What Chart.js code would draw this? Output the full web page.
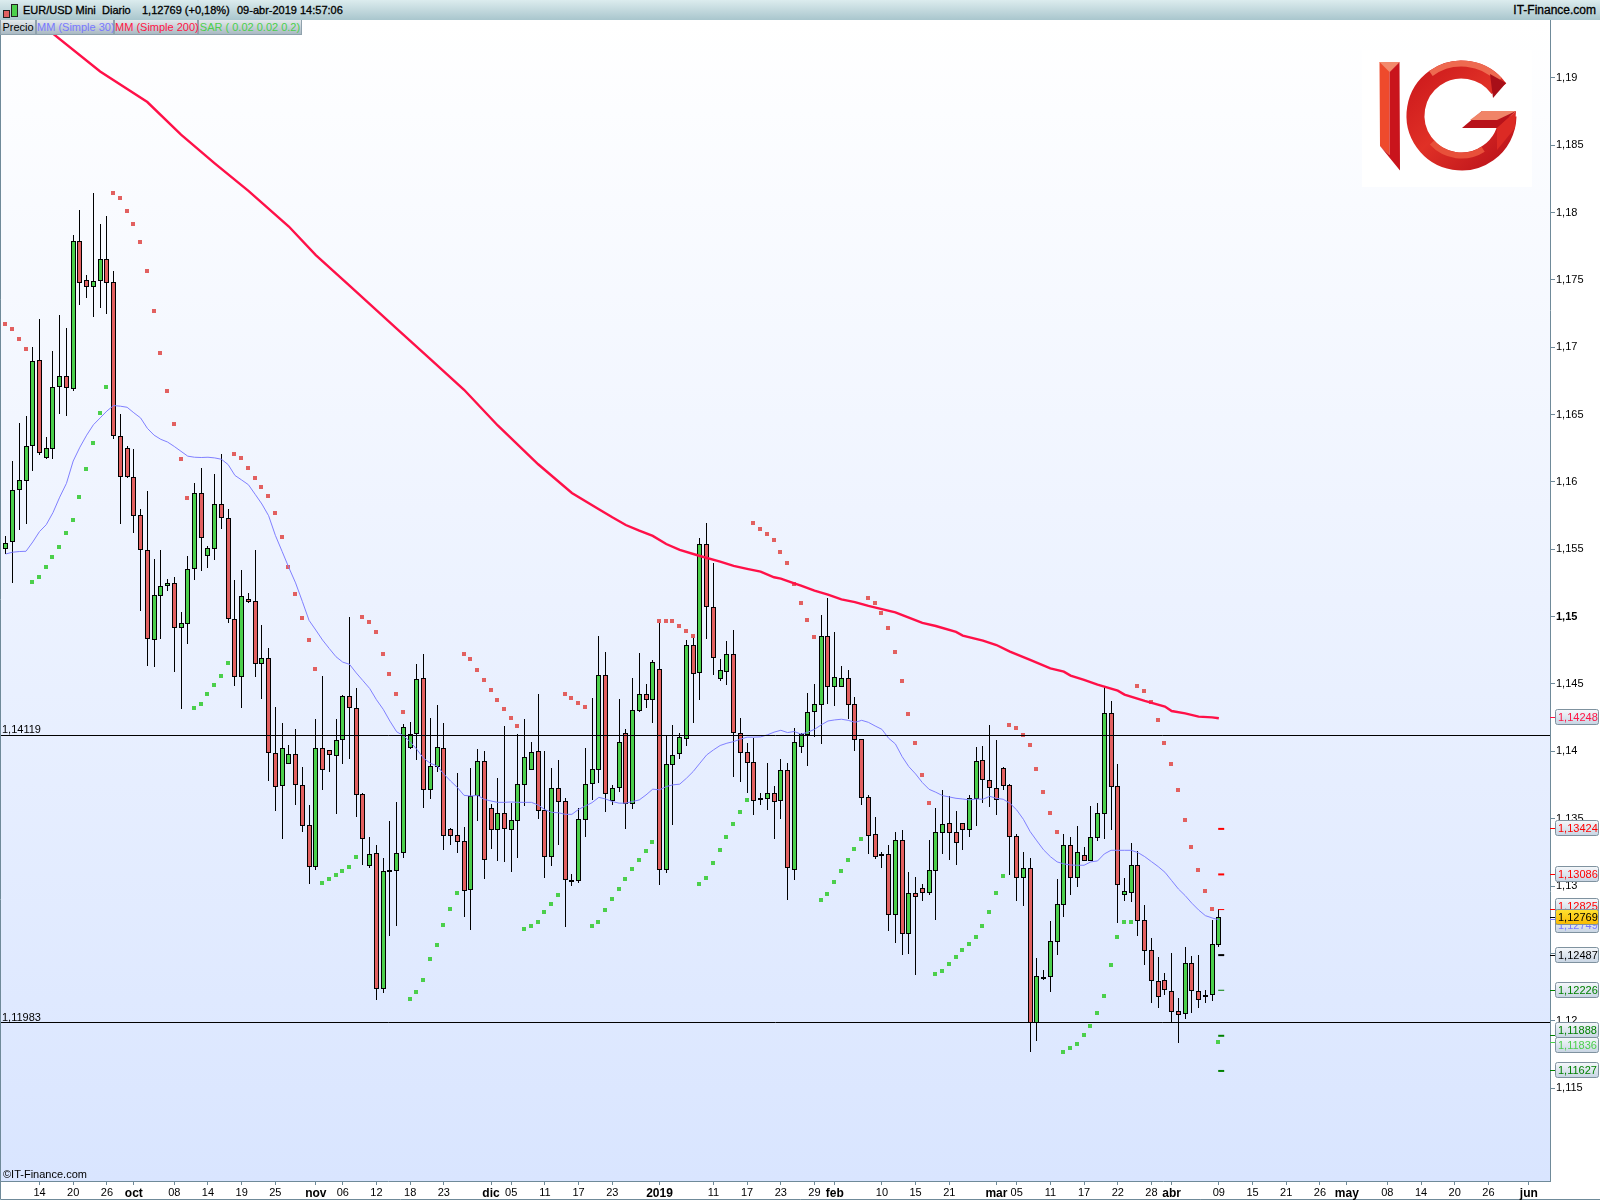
<!DOCTYPE html>
<html lang="es">
<head>
<meta charset="UTF-8" />
<title>EUR/USD Mini Diario</title>
<script src="https://cdn.jsdelivr.net/npm/chart.js"></script>
<style>
  html, body { margin: 0; padding: 0; background: #fff; }
  #wrap { position: relative; width: 1600px; height: 1200px; overflow: hidden; font-family: "Liberation Sans", Arial, sans-serif; }
  canvas { position: absolute; left: 0; top: 0; }
  #bar { position: absolute; left: 0; top: 0; width: 1600px; height: 20px; background: linear-gradient(#dcecee, #a9c6cd); }
  #bar span { position: absolute; top: 3px; font-size: 11px; line-height: 14px; color: #000; -webkit-text-stroke: 0.3px #000; white-space: nowrap; }
  .candle { position: absolute; box-sizing: border-box; border: 1px solid #222; }
  .tab { position: absolute; top: 20px; height: 15px; box-sizing: border-box; border: 1px solid #8fa2ad; border-top: 0; background: linear-gradient(#e4e9ec, #a9b9c3); font-size: 11px; line-height: 14px; text-align: center; white-space: nowrap; }
  #copy { position: absolute; left: 3px; top: 1168px; font-size: 11px; line-height: 13px; color: #000; }
</style>
</head>
<body>
<div id="wrap">
  <canvas id="chartCanvas" width="1600" height="1200"></canvas>
  <div id="bar">
    <div class="candle" style="left:3px;top:10px;width:7px;height:8px;background:#e06060"></div>
    <div class="candle" style="left:11px;top:4px;width:7px;height:13px;background:#4bcf4b"></div>
    <span style="left:23px">EUR/USD Mini</span>
    <span style="left:102px">Diario</span>
    <span style="left:142px">1,12769 (+0,18%)</span>
    <span style="left:237px">09-abr-2019 14:57:06</span>
    <span style="right:4px;font-size:12px">IT-Finance.com</span>
  </div>
  <div class="tab" style="left:0;width:36px;color:#000">Precio</div>
  <div class="tab" style="left:36px;width:78px;color:#7878ff">MM (Simple 30)</div>
  <div class="tab" style="left:114px;width:84px;color:#ff1444">MM (Simple 200)</div>
  <div class="tab" style="left:198px;width:104px;color:#4bcf4b">SAR ( 0.02 0.02 0.2)</div>
  <div id="copy">©IT-Finance.com</div>
</div>

<script>
const opens = [
  1.15503,1.15552,1.15943,1.16010,1.16270,1.16902,1.16181,1.16247,1.16708,1.16784,
  1.16692,1.17787,1.17498,1.17449,1.17488,1.17654,1.17482,1.16339,1.16250,1.16040,
  1.15751,1.15498,1.14828,1.15156,1.15230,1.15248,1.14918,1.14948,1.15350,1.15915,
  1.15452,1.15505,1.15834,1.15735,1.14980,1.14548,1.15128,1.15113,1.14651,1.14696,
  1.13986,1.13739,1.13909,1.13978,1.13747,1.13450,1.13143,1.14028,1.14007,1.13967,
  1.14087,1.14407,1.14325,1.13681,1.13151,1.13244,1.12232,1.13122,1.13114,1.13243,
  1.14027,1.14131,1.14541,1.13715,1.13886,1.14022,1.13421,1.13376,1.13332,1.12973,
  1.13671,1.13925,1.13577,1.13418,1.13539,1.13418,1.13485,1.13752,1.13864,1.14000,
  1.13562,1.13218,1.13725,1.13628,1.13042,1.13040,1.13492,1.13760,1.13864,1.14564,
  1.13634,1.13724,1.14134,1.13607,1.14302,1.14424,1.14384,1.14609,1.13122,1.13902,
  1.13983,1.14095,1.14787,1.14580,1.15537,1.15074,1.14540,1.14592,1.14721,1.14139,
  1.13993,1.13919,1.13657,1.13649,1.13689,1.13634,1.13860,1.13122,1.14035,1.14124,
  1.14295,1.14342,1.14854,1.14475,1.14480,1.14542,1.14349,1.14089,1.13659,1.13384,
  1.13221,1.13236,1.12788,1.13340,1.12647,1.12946,1.12983,1.12951,1.13114,1.13396,
  1.13466,1.13399,1.13466,1.13419,1.13644,1.13933,1.13785,1.13726,1.13874,1.13748,
  1.13369,1.13062,1.13132,1.11981,1.12328,1.12323,1.12587,1.12862,1.13302,1.13062,
  1.13228,1.13189,1.13359,1.13537,1.14282,1.13740,1.12936,1.12951,1.13154,1.12746,
  1.12523,1.12293,1.12300,1.12219,1.12070,1.12048,1.12426,1.12219,1.12191,1.12189,1.12565
];
const highs = [
  1.15598,1.16155,1.16437,1.16490,1.17002,1.17209,1.16334,1.16971,1.17240,1.17142,
  1.17833,1.18019,1.17534,1.18145,1.17915,1.17973,1.17567,1.16503,1.16268,1.16245,
  1.15800,1.15933,1.15427,1.15496,1.15278,1.15294,1.15035,1.15450,1.15992,1.16104,
  1.15523,1.16059,1.16207,1.15799,1.15272,1.15346,1.15176,1.15494,1.14938,1.14768,
  1.14328,1.14211,1.14047,1.14166,1.13882,1.13601,1.14240,1.14558,1.14012,1.14240,
  1.14418,1.14996,1.14471,1.13692,1.13363,1.13305,1.13209,1.13482,1.13623,1.14200,
  1.14217,1.14648,1.14722,1.14247,1.14343,1.14210,1.13431,1.13839,1.13438,1.13876,
  1.14017,1.14002,1.13606,1.13802,1.14188,1.13616,1.14128,1.14240,1.14069,1.14425,
  1.14002,1.13876,1.13935,1.13651,1.13089,1.13577,1.14024,1.14395,1.14856,1.14737,
  1.13748,1.14389,1.14166,1.14545,1.14730,1.14500,1.14678,1.14968,1.14117,1.14196,
  1.14137,1.14827,1.14842,1.15584,1.15695,1.15398,1.14686,1.14819,1.14901,1.14248,
  1.14062,1.14102,1.13691,1.13914,1.13743,1.13941,1.13914,1.14171,1.14137,1.14434,
  1.14500,1.15012,1.15138,1.14886,1.14633,1.14604,1.14403,1.14090,1.13676,1.13513,
  1.13253,1.13305,1.13401,1.13416,1.13105,1.13067,1.13015,1.13342,1.13580,1.13713,
  1.13669,1.13557,1.13468,1.13676,1.14032,1.14040,1.14196,1.14084,1.13884,1.13758,
  1.13387,1.13255,1.13206,1.12464,1.12377,1.12741,1.13053,1.13387,1.13364,1.13446,
  1.13290,1.13594,1.13617,1.14485,1.14374,1.13906,1.13060,1.13320,1.13260,1.12860,
  1.12615,1.12474,1.12355,1.12503,1.12169,1.12548,1.12481,1.12488,1.12228,1.12748,1.12827
];
const lows = [
  1.15465,1.15253,1.15644,1.15690,1.16084,1.16196,1.16171,1.16173,1.16503,1.16490,
  1.16677,1.17316,1.17365,1.17227,1.17293,1.17247,1.16322,1.15690,1.16030,1.15623,
  1.15043,1.14634,1.14629,1.14836,1.15191,1.14591,1.14314,1.14793,1.15273,1.15342,
  1.15364,1.15423,1.15651,1.14956,1.14487,1.14325,1.15102,1.14548,1.14391,1.13782,
  1.13559,1.13352,1.13905,1.13604,1.13403,1.13018,1.13122,1.13715,1.13843,1.13538,
  1.13909,1.13946,1.13514,1.13159,1.13137,1.12154,1.12207,1.12631,1.12705,1.13210,
  1.14019,1.13935,1.13579,1.13646,1.13846,1.13267,1.13302,1.13245,1.12770,1.12673,
  1.13483,1.13052,1.13275,1.13186,1.13178,1.13104,1.13208,1.13594,1.13861,1.13497,
  1.13059,1.13149,1.13304,1.12696,1.13000,1.13025,1.13364,1.13636,1.13765,1.13549,
  1.13605,1.13701,1.13424,1.13575,1.14295,1.14322,1.14213,1.13009,1.13100,1.13454,
  1.13944,1.14040,1.14211,1.14382,1.14834,1.14567,1.14523,1.14493,1.13810,1.13773,
  1.13691,1.13528,1.13602,1.13565,1.13350,1.13498,1.12896,1.13048,1.13988,1.13894,
  1.14109,1.14057,1.14351,1.14339,1.14478,1.14243,1.14005,1.13604,1.13241,1.13204,
  1.13137,1.12669,1.12580,1.12491,1.12498,1.12343,1.12892,1.12936,1.12751,1.13241,
  1.13196,1.13159,1.13270,1.13367,1.13448,1.13619,1.13589,1.13530,1.13716,1.13085,
  1.12892,1.12855,1.11764,1.11853,1.12303,1.12216,1.12491,1.12773,1.12936,1.12996,
  1.13186,1.13186,1.13337,1.13352,1.13419,1.12728,1.12892,1.12884,1.12632,1.12417,
  1.12135,1.12098,1.12194,1.11989,1.11838,1.12016,1.12060,1.12097,1.12134,1.12149,1.12550
];
const closes = [
  1.15544,1.15938,1.16012,1.16270,1.16894,1.16217,1.16250,1.16703,1.16784,1.16700,
  1.17787,1.17480,1.17449,1.17490,1.17654,1.17480,1.16337,1.16033,1.16038,1.15749,
  1.15498,1.14831,1.15158,1.15225,1.15248,1.14918,1.14951,1.15350,1.15915,1.15585,
  1.15508,1.15834,1.15735,1.14980,1.14548,1.15150,1.15110,1.14651,1.14696,1.13991,
  1.13737,1.14028,1.13978,1.13753,1.13448,1.13143,1.14028,1.13864,1.13975,1.14081,
  1.14407,1.14325,1.13678,1.13352,1.13236,1.12232,1.13108,1.13116,1.13244,1.14178,
  1.14131,1.14534,1.13715,1.13888,1.14029,1.13374,1.13374,1.13329,1.12965,1.13671,
  1.13925,1.13196,1.13418,1.13539,1.13426,1.13487,1.13755,1.13955,1.13992,1.13559,
  1.13218,1.13725,1.13626,1.13047,1.13035,1.13495,1.13755,1.13866,1.14564,1.13685,
  1.13724,1.14067,1.13607,1.14305,1.14424,1.14384,1.14661,1.13122,1.13904,1.13971,
  1.14105,1.14787,1.14572,1.15537,1.15074,1.14691,1.14602,1.14721,1.14139,1.13991,
  1.13916,1.13634,1.13652,1.13689,1.13627,1.13860,1.13130,1.14067,1.14127,1.14290,
  1.14349,1.14854,1.14480,1.14549,1.14542,1.14346,1.14087,1.13656,1.13374,1.13218,
  1.13236,1.12788,1.13340,1.12647,1.12946,1.12921,1.12951,1.13117,1.13399,1.13458,
  1.13396,1.13322,1.13419,1.13651,1.13926,1.13790,1.13730,1.13641,1.13745,1.13367,
  1.13058,1.13132,1.11986,1.12330,1.12323,1.12590,1.12865,1.13302,1.13062,1.13251,
  1.13189,1.13362,1.13540,1.14282,1.13738,1.13011,1.12961,1.13154,1.12743,1.12521,
  1.12298,1.12179,1.12226,1.12063,1.12046,1.12426,1.12219,1.12152,1.12186,1.12567,1.12769
];
const sar = [
  1.17173,1.17135,1.17061,1.16986,
  1.15258,1.15294,1.15368,1.15442,1.15516,1.15621,1.15718,1.15889,1.16096,1.16288,1.16513,1.16705,
  1.18145,1.18109,1.18012,1.17915,1.17782,1.17567,1.17270,1.16958,1.16674,1.16431,1.16171,1.15882,
  1.14322,1.14353,1.14427,1.14492,1.14561,1.14657,
  1.16207,1.16178,1.16104,1.16030,1.15963,1.15897,1.15770,1.15592,1.15370,1.15168,1.14991,1.14826,1.14611,
  1.13024,1.13053,1.13082,1.13114,1.13143,1.13217,
  1.14999,1.14961,1.14887,1.14723,1.14574,1.14426,1.14293,
  1.12161,1.12213,1.12302,1.12458,1.12562,1.12711,1.12829,1.12948,
  1.14722,1.14685,1.14603,1.14529,1.14455,1.14381,1.14314,1.14247,1.14188,
  1.12681,1.12703,1.12733,1.12807,1.12866,1.12933,
  1.14425,1.14395,1.14358,1.14329,
  1.12703,1.12733,1.12822,1.12907,1.12979,1.13053,1.13127,1.13194,1.13261,1.13328,
  1.14968,1.14968,1.14968,1.14931,1.14894,1.14857,
  1.13016,1.13060,1.13172,1.13268,1.13365,1.13461,1.13550,1.13639,
  1.15695,1.15651,1.15614,1.15569,1.15480,1.15398,1.15243,1.15102,1.14975,1.14849,
  1.12897,1.12941,1.13030,1.13112,1.13194,1.13275,1.13349,
  1.15138,1.15101,1.15027,1.14916,1.14737,1.14522,1.14277,1.14062,1.13824,1.13617,
  1.12348,1.12370,1.12422,1.12474,1.12526,1.12570,1.12622,1.12704,1.12808,1.12949,1.13075,
  1.14196,1.14173,1.14121,1.14047,1.13869,1.13698,1.13542,1.13401,
  1.11768,1.11798,1.11828,1.11895,1.11962,1.12058,1.12184,1.12414,1.12622,1.12733,1.12733,
  1.14485,1.14448,1.14366,1.14233,1.14062,1.13906,1.13713,1.13490,1.13290,1.13119,1.12963,1.12830,
  1.11842
];
const ma30 = [
  1.15465,1.15478,1.15483,1.15485,1.15554,1.15631,1.15682,1.15772,1.15887,1.15989,
  1.16155,1.16258,1.16347,1.16424,1.16475,1.16526,1.16567,1.16562,1.16554,1.16513,
  1.16475,1.16398,1.16347,1.16316,1.16296,1.16263,1.16227,1.16191,1.16183,1.16181,
  1.16183,1.16178,1.16168,1.16128,1.16048,1.16014,1.15979,1.15908,1.15836,1.15749,
  1.15603,1.15484,1.15364,1.15250,1.15113,1.14972,1.14900,1.14826,1.14763,1.14702,
  1.14662,1.14646,1.14582,1.14524,1.14466,1.14383,1.14312,1.14224,1.14145,1.14116,
  1.14071,1.14014,1.13948,1.13911,1.13891,1.13831,1.13779,1.13732,1.13673,1.13668,
  1.13673,1.13643,1.13631,1.13621,1.13621,1.13624,1.13621,1.13621,1.13621,1.13601,
  1.13567,1.13547,1.13544,1.13532,1.13532,1.13569,1.13594,1.13619,1.13658,1.13646,
  1.13627,1.13615,1.13615,1.13627,1.13639,1.13676,1.13719,1.13714,1.13738,1.13751,
  1.13756,1.13800,1.13850,1.13912,1.13973,1.14010,1.14043,1.14060,1.14072,1.14090,
  1.14105,1.14105,1.14107,1.14122,1.14142,1.14156,1.14139,1.14147,1.14127,1.14141,
  1.14163,1.14196,1.14225,1.14233,1.14238,1.14230,1.14215,1.14230,1.14215,1.14188,
  1.14163,1.14097,1.14055,1.13961,1.13886,1.13832,1.13768,1.13718,1.13696,1.13671,
  1.13661,1.13651,1.13646,1.13639,1.13646,1.13644,1.13666,1.13651,1.13644,1.13614,
  1.13565,1.13495,1.13404,1.13335,1.13268,1.13218,1.13179,1.13164,1.13156,1.13154,
  1.13154,1.13179,1.13186,1.13238,1.13265,1.13265,1.13265,1.13265,1.13248,1.13218,
  1.13181,1.13144,1.13102,1.13040,1.12978,1.12929,1.12872,1.12822,1.12780,1.12763,1.12749
];
// media de 200: solo los vertices
const ma200Idx = [5,7,14,21,26,31,36,42,46,51,58,63,68,73,79,84,88,90,92,94,96,98,100,103,106,108,110,112,114,115,117,118,120,122,124,126,128,132,134,136,138,141,142,145,147,149,152,155,157,158,160,162,165,166,169,172,173,175,177,179,180];
const ma200Val = [1.19440,1.19327,1.19047,1.18820,1.18578,1.18365,1.18161,1.17896,1.17684,1.17457,1.17138,1.16911,1.16684,1.16419,1.16131,1.15918,1.15797,1.15737,1.15680,1.15638,1.15599,1.15539,1.15495,1.15450,1.15408,1.15376,1.15354,1.15334,1.15292,1.15282,1.15247,1.15230,1.15193,1.15163,1.15128,1.15108,1.15079,1.15032,1.14992,1.14953,1.14930,1.14886,1.14859,1.14822,1.14789,1.14740,1.14678,1.14616,1.14591,1.14562,1.14530,1.14495,1.14450,1.14421,1.14374,1.14332,1.14299,1.14282,1.14257,1.14252,1.14245];

const levels = [1.14119, 1.11983];
const levelLabels = ['1,14119', '1,11983'];
const pivotVals = [1.13424, 1.13086, 1.12825, 1.12487, 1.12226, 1.11888, 1.11627];
const pivotColors = ['#ff0000', '#ff0000', '#ff0000', '#000000', '#008000', '#008000', '#008000'];
const pivotThin = [false, false, true, false, true, false, false];

const xTickIdx = [5,10,15,19,25,30,35,40,46,50,55,60,65,72,75,80,85,90,97,105,110,115,120,123,130,135,140,147,150,155,160,165,170,173,180,185,190,195,199,205,210,215,220,226];
const xTickLabels = ['14','20','26','oct','08','14','19','25','nov','06','12','18','23','dic','05','11','17','23','2019','11','17','23','29','feb','10','15','21','mar','05','11','17','22','28','abr','09','15','21','26','may','08','14','20','26','jun'];
const xTickBold = ['oct','nov','dic','2019','feb','mar','abr','may','jun'];
const yTicks = [1.115,1.12,1.125,1.13,1.135,1.14,1.145,1.15,1.155,1.16,1.165,1.17,1.175,1.18,1.185,1.19];

const tagVals = [1.14248, 1.13424, 1.13086, 1.12825, 1.12749, 1.12487, 1.12226, 1.11888, 1.11836, 1.11627, 1.12769];
const tagColors = ['#ff1444', '#ff0000', '#ff0000', '#ff0000', '#7878ff', '#000000', '#008000', '#008000', '#4bcf4b', '#008000', '#000000'];
// las etiquetas muy juntas se separan un poco
const tagShift = [0, 0, 0, -3, 6, 0, 0, -5, 3, 0, 0];

const UP = '#4bcf4b', DOWN = '#e26060';
const xMin = -0.712, xMax = 229.14, yMin = 1.1081, yMax = 1.19429;

function comma(v, d) { return v.toFixed(d).replace('.', ','); }

// pinta todo en pixeles enteros, como el grafico original
const snapPlugin = {
  id: 'snap',
  beforeDatasetsDraw(chart) {
    chart.data.datasets.forEach((ds, i) => {
      const meta = chart.getDatasetMeta(i);
      meta.data.forEach(el => {
        if (ds.snap === 'bar') {
          el.x = Math.floor(el.x) + 0.5;
          el.y = Math.round(el.y);
          el.base = Math.round(el.base);
          if (ds.minH && Math.abs(el.base - el.y) < ds.minH) el.base = el.y + ds.minH;
        } else if (ds.snap === 'dot') {
          el.x = Math.floor(el.x);
          el.y = Math.round(el.y);
        } else if (ds.snap === 'hline') {
          el.y = Math.floor(el.y) + 0.5;
        }
      });
    });
  }
};

const backPlugin = {
  id: 'back',
  beforeDraw(chart) {
    const { ctx, chartArea: a } = chart;
    ctx.save();
    const g = ctx.createLinearGradient(0, a.top, 0, a.bottom);
    g.addColorStop(0, '#ffffff');
    g.addColorStop(1, '#d9e5ff');
    ctx.fillStyle = g;
    ctx.fillRect(a.left, a.top, a.right - a.left, a.bottom - a.top);
    ctx.strokeStyle = '#6f8a99';
    ctx.lineWidth = 1;
    ctx.beginPath();
    ctx.moveTo(0.5, 0); ctx.lineTo(0.5, 1199.5); ctx.lineTo(1600, 1199.5);
    ctx.stroke();
    drawLogo(ctx);
    ctx.restore();
  }
};

function poly(ctx, pts, fill) {
  ctx.fillStyle = fill;
  ctx.beginPath();
  pts.forEach((p, i) => i ? ctx.lineTo(p[0], p[1]) : ctx.moveTo(p[0], p[1]));
  ctx.closePath();
  ctx.fill();
}

function drawLogo(ctx) {
  ctx.fillStyle = '#ffffff';
  ctx.fillRect(1362, 50, 170, 137);
  // I
  poly(ctx, [[1379.5,62],[1399.5,62],[1389.5,72],[1389.5,155],[1380,146]], '#ee4a2c');
  poly(ctx, [[1399.5,62],[1400,170.5],[1380,146],[1389.5,155],[1389.5,72]], '#c9141c');
  poly(ctx, [[1379.5,62],[1399.5,62],[1389.5,72]], '#f28a6c');
  // G
  const c = { x: 1461.5, y: 115.5 };
  const g = ctx.createLinearGradient(1405, 60, 1510, 170);
  g.addColorStop(0, '#c8141a');
  g.addColorStop(0.5, '#e03026');
  g.addColorStop(1, '#b8101a');
  ctx.strokeStyle = g;
  ctx.lineWidth = 18;
  ctx.beginPath();
  ctx.arc(c.x, c.y, 46, -0.62, 0.02, true);
  ctx.stroke();
  // bisel exterior claro arriba y abajo
  ctx.strokeStyle = '#ee6a50';
  ctx.lineWidth = 6;
  ctx.beginPath();
  ctx.arc(c.x, c.y, 52, -2.2, -0.75, false);
  ctx.stroke();
  ctx.strokeStyle = '#e8503a';
  ctx.beginPath();
  ctx.arc(c.x, c.y, 40, 1.0, 2.4, false);
  ctx.stroke();
  poly(ctx, [[1493,98],[1506,83],[1490,74]], '#a80f18');
  poly(ctx, [[1462,128],[1482,111],[1516,111],[1497,128]], '#b8121a');
  poly(ctx, [[1482,111],[1516,111],[1497,120],[1470,120]], '#f08468');
  poly(ctx, [[1516,111],[1515,128],[1497,150],[1497,128]], '#dc2a24');
}

const tagPlugin = {
  id: 'tags',
  afterDraw(chart) {
    const { ctx, scales: { y }, chartArea: a } = chart;
    ctx.save();
    ctx.font = '11px "Liberation Sans", Arial, sans-serif';
    ctx.textBaseline = 'middle';
    // nombre de los niveles sobre la linea
    ctx.fillStyle = '#000';
    levels.forEach((v, i) => {
      ctx.fillText(levelLabels[i], 2, Math.round(y.getPixelForValue(v)) - 5);
    });
    tagVals.forEach((v, i) => {
      const py = Math.floor(y.getPixelForValue(v));
      const ty = py + tagShift[i];
      const last = v === closes[closes.length - 1];
      ctx.strokeStyle = tagColors[i];
      ctx.lineWidth = 1;
      ctx.beginPath();
      ctx.moveTo(a.right, py + 0.5);
      ctx.lineTo(a.right + 5, py + 0.5);
      ctx.stroke();
      const g = ctx.createLinearGradient(0, ty - 7, 0, ty + 8);
      g.addColorStop(0, last ? '#ffe030' : '#f4f7fa');
      g.addColorStop(1, last ? '#f8b800' : '#c6d3e2');
      ctx.fillStyle = g;
      ctx.beginPath();
      ctx.roundRect(1555.5, ty - 7.5, 43, 15, 2);
      ctx.fill();
      ctx.strokeStyle = '#7f929f';
      ctx.stroke();
      ctx.fillStyle = tagColors[i];
      ctx.fillText(comma(v, 5), 1558, ty + 1);
    });
    ctx.restore();
  }
};

new Chart(document.getElementById('chartCanvas'), {
  type: 'bar',
  data: {
    datasets: [
      {
        label: 'Mechas', snap: 'bar', order: 6, grouped: false, barThickness: 1,
        backgroundColor: '#000', inflateAmount: 0,
        data: highs.map((h, i) => ({ x: i, y: [lows[i], h] }))
      },
      {
        label: 'Precio', snap: 'bar', minH: 2, order: 5, grouped: false, barThickness: 5,
        borderWidth: 1, borderColor: '#000', borderSkipped: false, inflateAmount: 0,
        backgroundColor: closes.map((c, i) => c >= opens[i] ? UP : DOWN),
        data: closes.map((c, i) => ({ x: i, y: [opens[i], c] }))
      },
      {
        type: 'scatter', label: 'SAR', snap: 'dot', order: 4,
        pointStyle: 'rect', pointRadius: 2.83, pointBorderWidth: 0,
        pointBackgroundColor: sar.map((s, i) => s >= closes[i] ? '#e26060' : '#4bcf4b'),
        data: sar.map((s, i) => ({ x: i, y: s }))
      },
      {
        type: 'line', label: 'MM 30', order: 3, borderColor: '#8080ff', borderWidth: 1,
        pointRadius: 0, tension: 0,
        data: ma30.map((v, i) => ({ x: i, y: v }))
      },
      {
        type: 'line', label: 'MM 200', order: 2, borderColor: '#ff1048', borderWidth: 2.4,
        pointRadius: 0, tension: 0,
        data: ma200Idx.map((x, i) => ({ x: x, y: ma200Val[i] }))
      },
      ...levels.map(v => ({
        type: 'line', label: 'Nivel', snap: 'hline', order: 1, borderColor: '#000', borderWidth: 1,
        pointRadius: 0,
        data: [{ x: xMin, y: v }, { x: xMax, y: v }]
      })),
      {
        type: 'scatter', label: 'Pivotes', order: 1, pointStyle: 'line', pointRadius: 3,
        pointBorderColor: pivotColors,
        pointBorderWidth: pivotThin.map(t => t ? 1 : 2),
        data: pivotVals.map(v => ({ x: 180.35, y: v }))
      }
    ]
  },
  options: {
    responsive: false,
    animation: false,
    layout: { autoPadding: false, padding: { left: 1, top: 20, right: 0, bottom: 0 } },
    plugins: { legend: { display: false }, tooltip: { enabled: false } },
    scales: {
      x: {
        type: 'linear', position: 'bottom', offset: false, min: xMin, max: xMax,
        afterBuildTicks: s => { s.ticks = xTickIdx.map(v => ({ value: v })); },
        afterFit: s => { s.height = 19; s.paddingLeft = 0; s.paddingRight = 0; },
        grid: { display: true, drawOnChartArea: false, drawTicks: true, tickLength: 4, tickColor: '#6f8a99', offset: false },
        border: { color: '#6f8a99', width: 1 },
        ticks: {
          autoSkip: false, maxRotation: 0, padding: 1, color: '#000',
          callback: v => xTickLabels[xTickIdx.indexOf(v)],
          font: c => {
            const lab = c.tick ? xTickLabels[xTickIdx.indexOf(c.tick.value)] : '';
            return { family: '"Liberation Sans", Arial, sans-serif', size: xTickBold.includes(lab) ? 12 : 11, weight: xTickBold.includes(lab) ? 'bold' : 'normal' };
          }
        }
      },
      y: {
        type: 'linear', position: 'right', min: yMin, max: yMax,
        afterBuildTicks: s => { s.ticks = yTicks.map(v => ({ value: v })); },
        afterFit: s => { s.width = 50; s.paddingTop = 0; s.paddingBottom = 0; },
        grid: { display: true, drawOnChartArea: false, drawTicks: true, tickLength: 5, tickColor: '#6f8a99' },
        border: { color: '#6f8a99', width: 1 },
        ticks: {
          padding: 1, color: '#000', crossAlign: 'near',
          callback: v => comma(v, (Math.round(v * 1000) % 10 === 0) ? 2 : 3),
          font: c => ({ family: '"Liberation Sans", Arial, sans-serif', size: 11, weight: c.tick && Math.abs(c.tick.value - 1.15) < 1e-6 ? 'bold' : 'normal' })
        }
      }
    }
  },
  plugins: [backPlugin, snapPlugin, tagPlugin]
});
</script>
</body>
</html>
